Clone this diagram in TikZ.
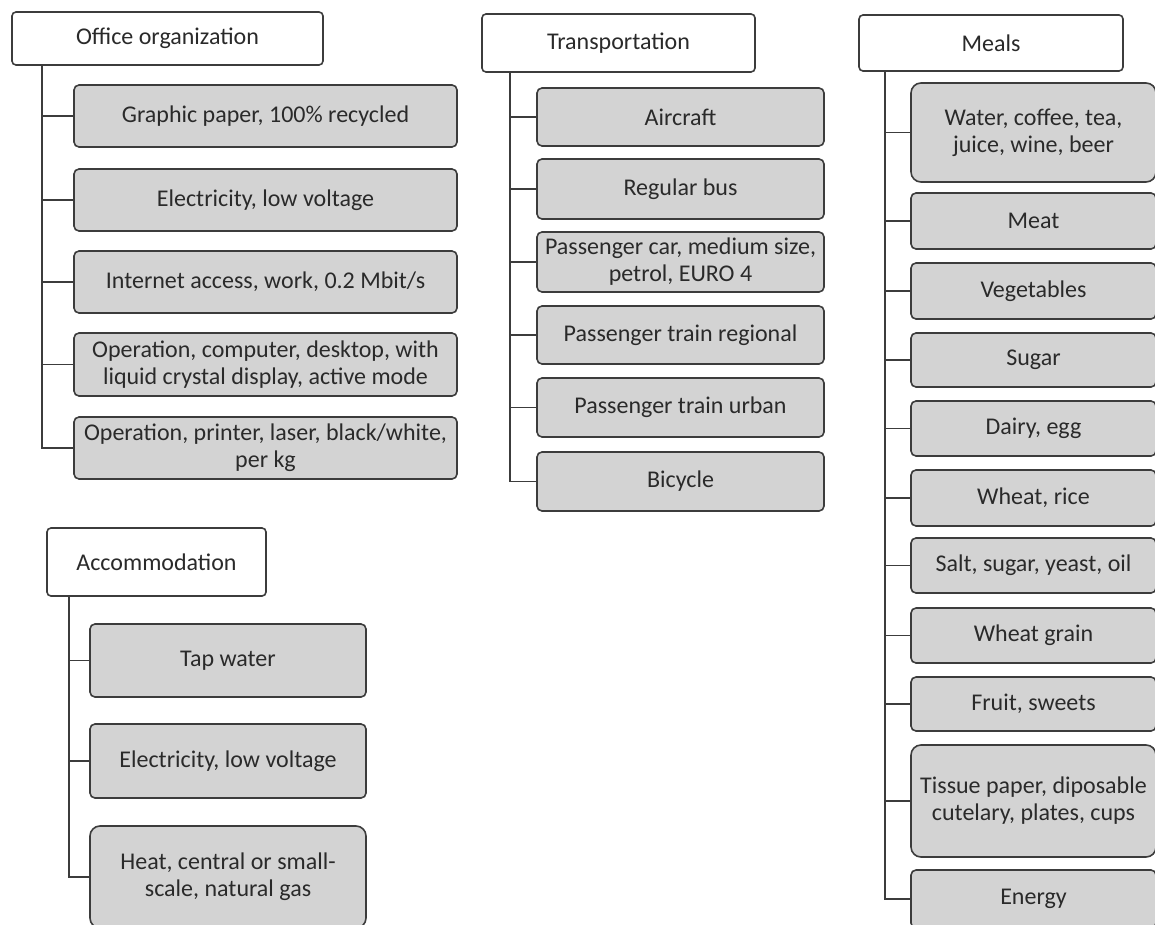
\documentclass[tikz,border=0pt]{standalone}
\usepackage{fontspec}
\setmainfont{Carlito}
\definecolor{bd}{HTML}{3C3C3C}
\definecolor{gr}{HTML}{D3D3D3}
\definecolor{tx}{HTML}{2A2A2A}
\tikzset{
  base/.style={draw=bd, line width=1.6pt, inner sep=0pt, outer sep=0pt, align=center,
    text=tx, font=\fontsize{24}{27}\selectfont},
  hdr/.style={base, fill=white, rounded corners=4pt},
  item/.style={base, fill=gr, rounded corners=5pt},
  tall/.style={base, fill=gr, rounded corners=10pt},
  conn/.style={draw=bd, line width=1.8pt}
}
\begin{document}
\begin{tikzpicture}[x=1pt,y=-1pt]
\useasboundingbox (0,0) rectangle (1155,925);
\clip (0,0) rectangle (1155,925);
% Office organization
\node[hdr, minimum width=311pt, minimum height=53pt] (o) at (167.5,38.5) {Office organization};
\coordinate (osp) at (42,65);
\node[item, minimum width=383pt, minimum height=62pt] (o1) at (265.5,116) {Graphic paper, 100\% recycled};
\node[item, minimum width=383pt, minimum height=62pt] (o2) at (265.5,200) {Electricity, low voltage};
\node[item, minimum width=383pt, minimum height=62pt] (o3) at (265.5,282) {Internet access, work, 0.2 Mbit/s};
\node[item, minimum width=383pt, minimum height=63pt] (o4) at (265.5,364.5) {Operation, computer,\ desktop,\ with\\liquid crystal display, active mode};
\node[item, minimum width=383pt, minimum height=62pt] (o5) at (265.5,448) {Operation, printer, laser, black/white,\\per kg};
\foreach \c in {o1,o2,o3,o4,o5} \draw[conn] (osp) |- (\c.west);
% Accommodation
\node[hdr, minimum width=219pt, minimum height=68pt] (a) at (156.5,562) {Accommodation};
\coordinate (asp) at (69,596);
\node[item, minimum width=276pt, minimum height=73pt] (a1) at (228,660.5) {Tap water};
\node[item, minimum width=276pt, minimum height=74pt] (a2) at (228,761) {Electricity, low voltage};
\node[tall, minimum width=276pt, minimum height=102pt] (a3) at (228,877) {Heat,\ central or small-\\scale, natural gas};
\foreach \c in {a1,a2,a3} \draw[conn] (asp) |- (\c.west);
% Transportation
\node[hdr, minimum width=273pt, minimum height=58pt] (t) at (618.5,43) {Transportation};
\coordinate (tsp) at (510,72);
\node[item, minimum width=287pt, minimum height=58pt] (t1) at (680.5,117) {Aircraft};
\node[item, minimum width=287pt, minimum height=60pt] (t2) at (680.5,189) {Regular bus};
\node[item, minimum width=287pt, minimum height=60pt] (t3) at (680.5,262) {Passenger car, medium\ size,\\petrol, EURO\ 4};
\node[item, minimum width=287pt, minimum height=58pt] (t4) at (680.5,335) {Passenger train regional};
\node[item, minimum width=287pt, minimum height=59pt] (t5) at (680.5,407.5) {Passenger train urban};
\node[item, minimum width=287pt, minimum height=59pt] (t6) at (680.5,481.5) {Bicycle};
\foreach \c in {t1,t2,t3,t4,t5,t6} \draw[conn] (tsp) |- (\c.west);
% Meals
\node[hdr, minimum width=264pt, minimum height=56pt] (m) at (991,43) {Meals};
\coordinate (msp) at (885,71);
\node[tall, minimum width=245pt, minimum height=99pt] (m1) at (1033.5,132.5) {Water, coffee,\ tea,\\juice, wine, beer};
\node[item, minimum width=245pt, minimum height=56pt] (m2) at (1033.5,221) {Meat};
\node[item, minimum width=245pt, minimum height=56pt] (m3) at (1033.5,291) {Vegetables};
\node[item, minimum width=245pt, minimum height=54pt] (m4) at (1033.5,360) {Sugar};
\node[item, minimum width=245pt, minimum height=55pt] (m5) at (1033.5,428.5) {Dairy, egg};
\node[item, minimum width=245pt, minimum height=56pt] (m6) at (1033.5,498) {Wheat,\ rice};
\node[item, minimum width=245pt, minimum height=55pt] (m7) at (1033.5,565.5) {Salt, sugar, yeast, oil};
\node[item, minimum width=245pt, minimum height=55pt] (m8) at (1033.5,635.5) {Wheat grain};
\node[item, minimum width=245pt, minimum height=54pt] (m9) at (1033.5,704) {Fruit, sweets};
\node[tall, minimum width=245pt, minimum height=112pt] (m10) at (1033.5,801) {Tissue paper, diposable\\cutelary, plates, cups};
\node[item, minimum width=245pt, minimum height=58pt] (m11) at (1033.5,899) {Energy};
\foreach \c in {m1,m2,m3,m4,m5,m6,m7,m8,m9,m10,m11} \draw[conn] (msp) |- (\c.west);
\end{tikzpicture}
\end{document}
